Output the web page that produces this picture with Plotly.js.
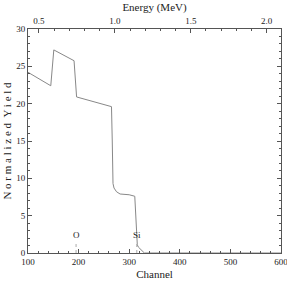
<!DOCTYPE html>
<html><head><meta charset="utf-8">
<script src="https://cdn.plot.ly/plotly-3.0.1.min.js"></script>
<style>html,body{margin:0;padding:0;background:#fff}#c{width:287px;height:284px}</style>
</head><body><div id="c"></div>
<script>
var channel = [100, 145, 151, 191, 196, 265, 266.5, 268, 270, 275, 282, 300, 311, 313, 315, 316, 318, 322, 326, 330, 600];
var yieldVals = [24.2, 22.4, 27.2, 25.75, 20.9, 19.6, 15, 9.3, 8.7, 8.2, 7.9, 7.8, 7.6, 5, 2, 1.1, 0.8, 0.5, 0.2, 0, 0];
var elementNames = ['O', 'Si'];
var elementChannels = [195, 315];
var labelY = 2.4;
var markerTop = 1.6;
var channelRange = [100, 600];
var energyRange = [0.428, 2.094];

var font = {family: 'Liberation Serif, Times New Roman, serif', color: '#222'};
var axisCommon = {
  showgrid: false, zeroline: false, showline: true, linecolor: '#555', linewidth: 1,
  ticks: 'inside', ticklen: 4, tickcolor: '#555', ticklabeloverflow: 'allow',
  tickfont: {family: font.family, size: 9, color: '#222'}
};

var traces = [
  {x: channel, y: yieldVals, type: 'scatter', mode: 'lines', line: {color: '#888', width: 1}, hoverinfo: 'skip', xaxis: 'x', yaxis: 'y'},
  {x: [], y: [], type: 'scatter', mode: 'lines', xaxis: 'x2', yaxis: 'y', hoverinfo: 'skip', showlegend: false}
];

var annotations = elementNames.map(function(n, i){
  return {x: elementChannels[i], y: labelY, xref: 'x', yref: 'y', text: n, showarrow: false,
    font: {family: font.family, size: 9, color: '#222'}};
});
var shapes = elementChannels.map(function(c){
  return {type: 'line', xref: 'x', yref: 'y', x0: c, x1: c, y0: 0, y1: markerTop,
    line: {color: '#aaa', width: 1, dash: 'dot'}};
});

var layout = {
  width: 287, height: 284,
  margin: {l: 28, r: 6, t: 29, b: 31},
  paper_bgcolor: '#fff', plot_bgcolor: '#fff',
  showlegend: false,
  font: font,
  annotations: annotations,
  shapes: shapes,
  xaxis: Object.assign({}, axisCommon, {
    range: channelRange, dtick: 100, tick0: 100, mirror: true,
    minor: {dtick: 20, ticks: 'inside', ticklen: 2, tickcolor: '#555'},
    title: {text: 'Channel', font: {family: font.family, size: 11, color: '#222'}, standoff: 4}
  }),
  xaxis2: Object.assign({}, axisCommon, {
    overlaying: 'x', side: 'top', anchor: 'y', range: energyRange, dtick: 0.5, tick0: 0.5, tickformat: '.1f',
    minor: {dtick: 0.1, ticks: 'inside', ticklen: 2, tickcolor: '#555'},
    title: {text: 'Energy (MeV)', font: {family: font.family, size: 11, color: '#222'}, standoff: 2}
  }),
  yaxis: Object.assign({}, axisCommon, {
    range: [0, 30], dtick: 5, mirror: 'ticks',
    minor: {dtick: 1, ticks: 'inside', ticklen: 2, tickcolor: '#555'},
    title: {text: 'N o r m a l i z e d &nbsp;Y i e l d', font: {family: font.family, size: 11, color: '#222'}, standoff: 2}
  })
};

Plotly.newPlot('c', traces, layout, {staticPlot: true, displayModeBar: false});
</script></body></html>
